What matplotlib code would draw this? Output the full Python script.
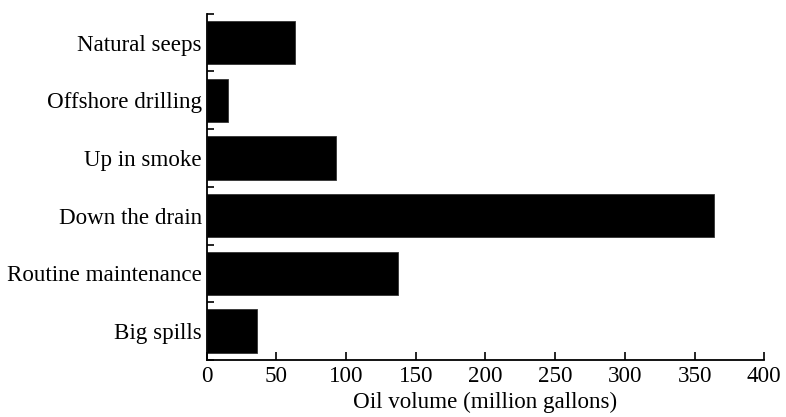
import matplotlib
matplotlib.use("Agg")
import matplotlib.pyplot as plt
import numpy as np

categories = ["Natural seeps", "Offshore drilling", "Up in smoke",
              "Down the drain", "Routine maintenance", "Big spills"]
values = [63, 15, 93, 364, 137, 36]
xticks = [0, 50, 100, 150, 200, 250, 300, 350, 400]

plt.rcParams['font.family'] = ['Liberation Serif', 'DejaVu Serif']

fig = plt.figure(figsize=(7.86, 4.17), dpi=100)
ax = fig.add_axes([206.7/786, 1-360/417, (764.3-206.7)/786, (360-13.7)/417])

y = np.arange(len(categories))
ax.barh(y, values, height=0.75, color='black', edgecolor='#333333', linewidth=0.6)
ax.set_ylim(len(categories)-0.5, -0.5)
ax.set_xlim(0, 400)

ax.set_yticks(y)
ax.set_yticklabels(categories, fontsize=16.6)
ax.tick_params(axis='y', which='major', length=0, pad=3.5)
ax.set_yticks(np.arange(-0.5, len(categories), 1.0), minor=True)
ax.tick_params(axis='y', which='minor', direction='in', length=5, width=1.2)

ax.set_xticks(xticks)
ax.set_xticklabels([str(t) for t in xticks], fontsize=16.6)
ax.tick_params(axis='x', direction='in', length=6, width=1.2, pad=4)
ax.set_xlabel("Oil volume (million gallons)", fontsize=16.6, labelpad=4)

for s in ['top', 'right']:
    ax.spines[s].set_visible(False)
for s in ['left', 'bottom']:
    ax.spines[s].set_linewidth(1.3)

fig.savefig("out.png", dpi=100)
